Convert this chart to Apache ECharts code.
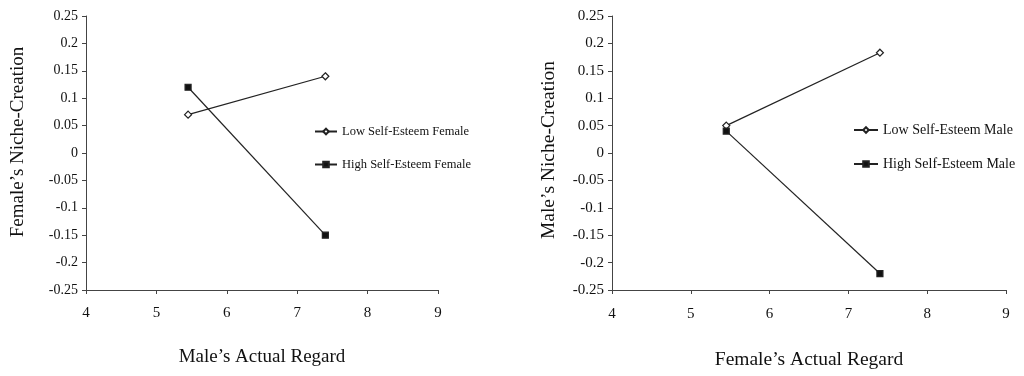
<!DOCTYPE html>
<html>
<head>
<meta charset="utf-8">
<script src="https://cdn.jsdelivr.net/npm/echarts@6/dist/echarts.min.js"></script>
<style>
  html, body { margin: 0; padding: 0; background: #fff; }
  #chart { width: 1024px; height: 376px; }
</style>
</head>
<body>
<div id="chart"></div>
<script>
var regard = [5.45, 7.4];
var femaleLow = [0.07, 0.14];
var femaleHigh = [0.12, -0.15];
var maleLow = [0.05, 0.183];
var maleHigh = [0.04, -0.22];

var font = 'Liberation Serif';

function pairs(ys) {
  var out = [];
  for (let i = 0; i < ys.length; i++) out.push([regard[i], ys[i]]);
  return out;
}

function xAxis(idx, title, size, gap, labelSize, margin) {
  return {
    gridIndex: idx, type: 'value', min: 4, max: 9, interval: 1,
    name: title, nameLocation: 'middle', nameGap: gap,
    nameTextStyle: { fontFamily: font, fontSize: size, color: '#111' },
    axisLine: { onZero: false, lineStyle: { color: '#444', width: 1 } },
    axisTick: { show: true, length: 4, lineStyle: { color: '#444' } },
    axisLabel: { fontFamily: font, fontSize: labelSize, color: '#111', margin: margin },
    splitLine: { show: false }
  };
}

function yAxis(idx, title, size, gap, lift, labelSize) {
  return {
    gridIndex: idx, type: 'value', min: -0.25, max: 0.25, interval: 0.05,
    name: title, nameLocation: 'middle', nameGap: gap,
    nameTextStyle: { fontFamily: font, fontSize: size, color: '#111', padding: [0, 0, 0, lift] },
    axisLine: { show: true, onZero: false, lineStyle: { color: '#444', width: 1 } },
    axisTick: { show: true, length: 4, lineStyle: { color: '#444' } },
    axisLabel: {
      fontFamily: font, fontSize: labelSize, color: '#111', margin: 8,
      formatter: function (v) { return String(parseFloat(v.toFixed(2))); }
    },
    splitLine: { show: false }
  };
}

function line(name, idx, ys, filled) {
  return {
    name: name, type: 'line', xAxisIndex: idx, yAxisIndex: idx,
    data: pairs(ys),
    symbol: filled ? 'rect' : 'diamond',
    symbolSize: filled ? 6 : 7,
    showAllSymbol: true,
    lineStyle: { color: '#222', width: 1.2 },
    itemStyle: { color: filled ? '#111' : '#fff', borderColor: '#222', borderWidth: 1.2 },
    emphasis: { disabled: true },
    animation: false
  };
}

function legend(names, left, top, width, size, gap) {
  return {
    data: names, orient: 'vertical', left: left, top: top, padding: 0,
    itemWidth: width, itemHeight: 7, itemGap: gap,
    textStyle: { fontFamily: font, fontSize: size, color: '#111' },
    selectedMode: false
  };
}

var chart = echarts.init(document.getElementById('chart'));
var option = {
  backgroundColor: '#fff',
  animation: false,
  grid: [
    { left: 86, top: 16, width: 352, height: 274 },
    { left: 612, top: 16, width: 394, height: 274 }
  ],
  xAxis: [
    xAxis(0, 'Male\u2019s Actual Regard', 19, 58, 15, 16),
    xAxis(1, 'Female\u2019s Actual Regard', 19.5, 60, 15, 17)
  ],
  yAxis: [
    yAxis(0, 'Female\u2019s Niche-Creation', 19, 58, 22, 14),
    yAxis(1, 'Male\u2019s Niche-Creation', 19.5, 53, 6, 15)
  ],
  legend: [
    legend(['Low Self-Esteem Female', 'High Self-Esteem Female'], 314, 125, 22, 12.5, 20),
    legend(['Low Self-Esteem Male', 'High Self-Esteem Male'], 853, 123, 24, 14, 20)
  ],
  series: [
    line('Low Self-Esteem Female', 0, femaleLow, false),
    line('High Self-Esteem Female', 0, femaleHigh, true),
    line('Low Self-Esteem Male', 1, maleLow, false),
    line('High Self-Esteem Male', 1, maleHigh, true)
  ]
};
chart.setOption(option);

window.addEventListener('resize', function () { chart.resize(); });
</script>
</body>
</html>
